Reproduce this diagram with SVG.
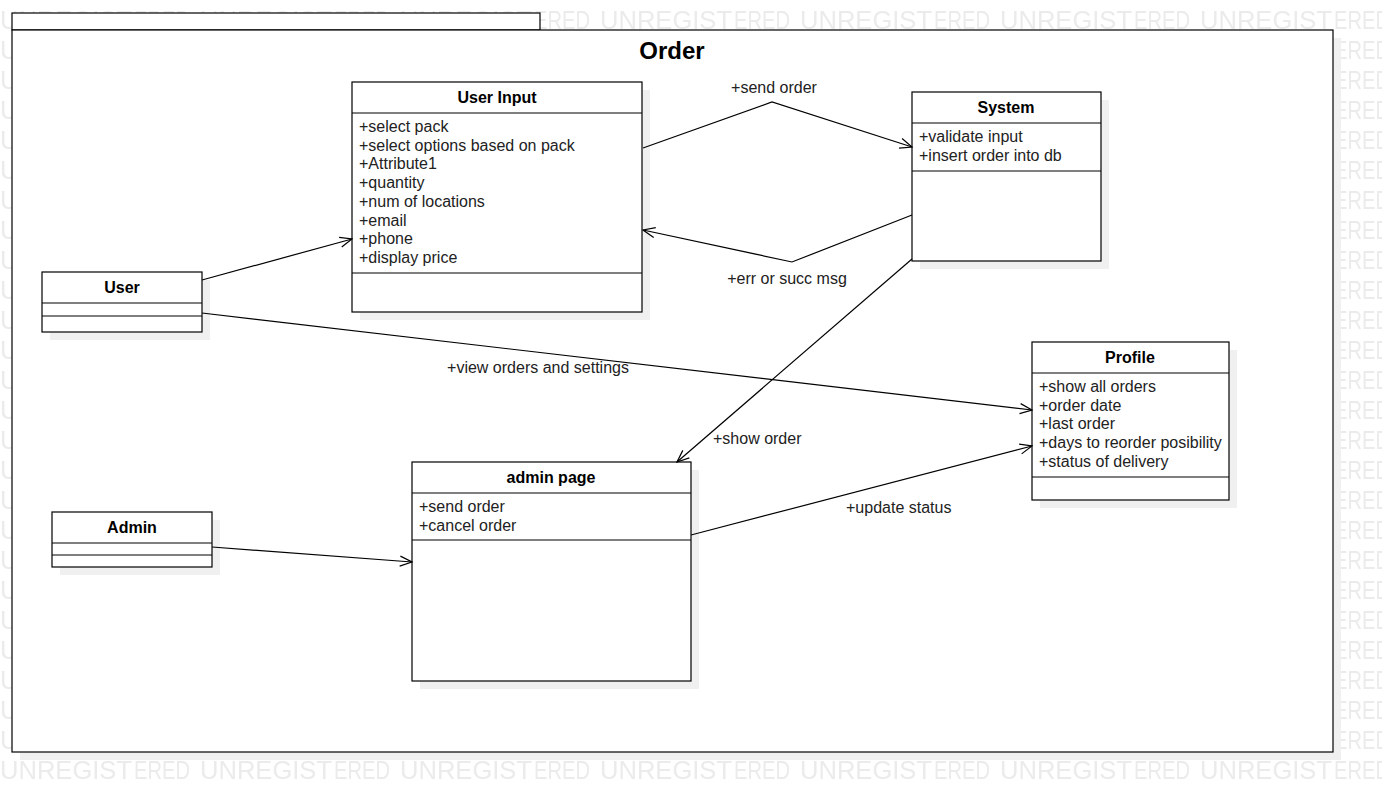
<svg xmlns="http://www.w3.org/2000/svg" width="1382" height="802" viewBox="0 0 1382 802">
<style>
.wm{font-family:"Liberation Sans",Arial,sans-serif;font-size:25px;fill:#ebebeb}
.box{fill:#fff;stroke:#000;stroke-width:1.2}
.shd{fill:#f0f0f0}
.sep{stroke:#000;stroke-width:1.2}
.ttl{font-family:"Liberation Sans",Arial,sans-serif;font-size:16px;font-weight:bold;fill:#000;text-anchor:middle}
.att{font-family:"Liberation Sans",Arial,sans-serif;font-size:16px;fill:#222}
.lbl{font-family:"Liberation Sans",Arial,sans-serif;font-size:16px;fill:#222}
.con{fill:none;stroke:#000;stroke-width:1.2}
</style>
<defs>
<pattern id="wmp" x="0" y="0" width="200" height="30" patternUnits="userSpaceOnUse">
<text class="wm" x="0" y="29"><tspan x="0" textLength="132" lengthAdjust="spacingAndGlyphs">UNREGIST</tspan><tspan x="134" textLength="56" lengthAdjust="spacingAndGlyphs">ERED</tspan></text>
</pattern>
<marker id="open" viewBox="0 0 14 12" refX="13" refY="6" markerWidth="14" markerHeight="12" markerUnits="userSpaceOnUse" orient="auto">
<path d="M1,1 L13,6 L1,11" fill="none" stroke="#000" stroke-width="1.2"/>
</marker>
</defs>
<rect width="1382" height="802" fill="#fff"/>
<rect id="watermark" width="1382" height="790" fill="url(#wmp)"/>
<g id="package-order">
<rect class="shd" x="20" y="38" width="1321" height="722"/>
<rect class="box" x="12" y="13" width="528" height="17"/>
<rect class="box" x="12" y="30" width="1321" height="722" stroke-width="1.5"/>
<text x="672" y="59" font-family="Liberation Sans, Arial, sans-serif" font-size="24" font-weight="bold" text-anchor="middle">Order</text>
</g>
<g id="class-user-input">
<rect class="shd" x="360" y="90" width="290" height="230"/>
<rect class="box" x="352" y="82" width="290" height="230"/>
<line class="sep" x1="352" y1="113" x2="642" y2="113"/>
<line class="sep" x1="352" y1="273" x2="642" y2="273"/>
<text class="ttl" x="497" y="103">User Input</text>
<text class="att" x="359" y="132">+select pack</text>
<text class="att" x="359" y="151">+select options based on pack</text>
<text class="att" x="359" y="169">+Attribute1</text>
<text class="att" x="359" y="188">+quantity</text>
<text class="att" x="359" y="207">+num of locations</text>
<text class="att" x="359" y="226">+email</text>
<text class="att" x="359" y="244">+phone</text>
<text class="att" x="359" y="263">+display price</text>
</g>
<g id="class-system">
<rect class="shd" x="920" y="100" width="189" height="169"/>
<rect class="box" x="912" y="92" width="189" height="169"/>
<line class="sep" x1="912" y1="123" x2="1101" y2="123"/>
<line class="sep" x1="912" y1="171" x2="1101" y2="171"/>
<text class="ttl" x="1006" y="113">System</text>
<text class="att" x="919" y="142">+validate input</text>
<text class="att" x="919" y="161">+insert order into db</text>
</g>
<g id="class-user">
<rect class="shd" x="50" y="280" width="160" height="60"/>
<rect class="box" x="42" y="272" width="160" height="60"/>
<line class="sep" x1="42" y1="303" x2="202" y2="303"/>
<line class="sep" x1="42" y1="316" x2="202" y2="316"/>
<text class="ttl" x="122" y="293">User</text>
</g>
<g id="class-profile">
<rect class="shd" x="1040" y="350" width="197" height="158"/>
<rect class="box" x="1032" y="342" width="197" height="158"/>
<line class="sep" x1="1032" y1="373" x2="1229" y2="373"/>
<line class="sep" x1="1032" y1="477" x2="1229" y2="477"/>
<text class="ttl" x="1130" y="363">Profile</text>
<text class="att" x="1039" y="392">+show all orders</text>
<text class="att" x="1039" y="411">+order date</text>
<text class="att" x="1039" y="429">+last order</text>
<text class="att" x="1039" y="448">+days to reorder posibility</text>
<text class="att" x="1039" y="467">+status of delivery</text>
</g>
<g id="class-admin-page">
<rect class="shd" x="420" y="470" width="279" height="219"/>
<rect class="box" x="412" y="462" width="279" height="219"/>
<line class="sep" x1="412" y1="493" x2="691" y2="493"/>
<line class="sep" x1="412" y1="540" x2="691" y2="540"/>
<text class="ttl" x="551" y="483">admin page</text>
<text class="att" x="419" y="512">+send order</text>
<text class="att" x="419" y="531">+cancel order</text>
</g>
<g id="class-admin">
<rect class="shd" x="60" y="520" width="160" height="55"/>
<rect class="box" x="52" y="512" width="160" height="55"/>
<line class="sep" x1="52" y1="543" x2="212" y2="543"/>
<line class="sep" x1="52" y1="555" x2="212" y2="555"/>
<text class="ttl" x="132" y="533">Admin</text>
</g>
<g id="connectors">
<polyline class="con" points="643,148 772,102 912,147" marker-end="url(#open)"/>
<text class="lbl" x="774" y="93" text-anchor="middle">+send order</text>
<polyline class="con" points="912,215 792,262 643,230" marker-end="url(#open)"/>
<text class="lbl" x="787" y="284" text-anchor="middle">+err or succ msg</text>
<line class="con" x1="202" y1="280" x2="352" y2="239" marker-end="url(#open)"/>
<line class="con" x1="202" y1="313" x2="1032" y2="410" marker-end="url(#open)"/>
<text class="lbl" x="538" y="373" text-anchor="middle">+view orders and settings</text>
<line class="con" x1="912" y1="259" x2="677" y2="462" marker-end="url(#open)"/>
<text class="lbl" x="713" y="444">+show order</text>
<line class="con" x1="212" y1="547" x2="412" y2="562" marker-end="url(#open)"/>
<line class="con" x1="691" y1="535" x2="1032" y2="446" marker-end="url(#open)"/>
<text class="lbl" x="846" y="513">+update status</text>
</g>
</svg>
